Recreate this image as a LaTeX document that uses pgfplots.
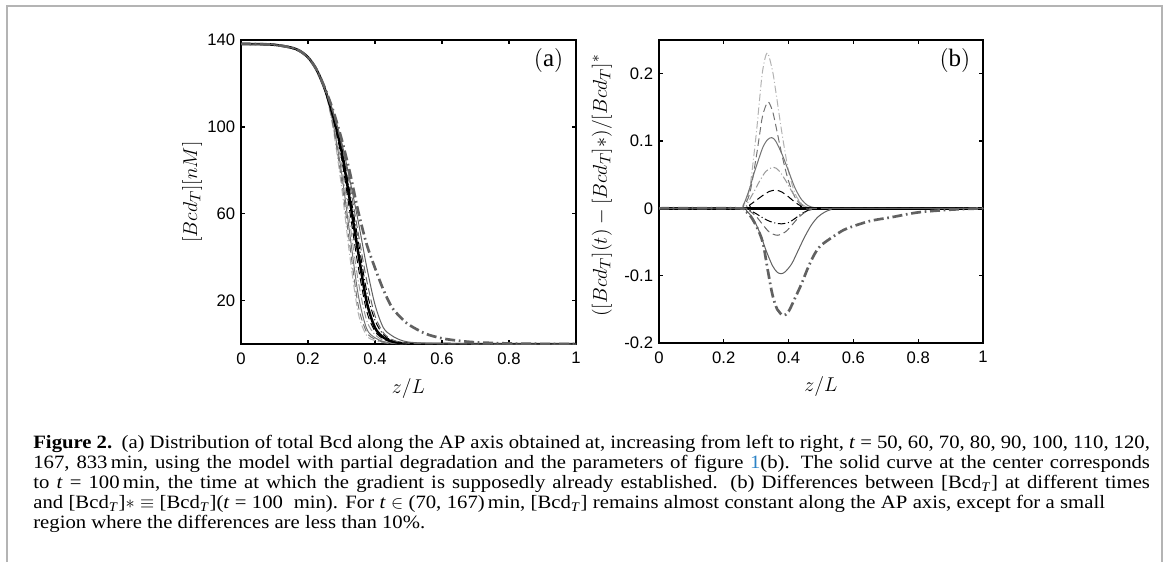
\documentclass[border=0pt]{standalone}
\usepackage{fontspec}
\setmainfont{Liberation Serif}
\newfontfamily\capfont[FakeStretch=1.1]{Liberation Serif}
\newfontfamily\ticksf{Liberation Sans}
\usepackage{pgfplots}
\usepackage{pgfplotstable}
\pgfplotsset{compat=1.18}
\definecolor{linkblue}{HTML}{2B83C6}
\definecolor{framegray}{HTML}{B4B4B4}

% line styles, t = 50 ... 833 min
\tikzset{
  s50/.style={black!30, line width=0.6pt, dash pattern=on 4.5pt off 1.6pt on 0.6pt off 1.6pt},
  s60/.style={black!55, line width=0.6pt, dash pattern=on 4.5pt off 2.4pt},
  s70/.style={black!55, line width=0.6pt},
  s80/.style={black!40, line width=0.6pt, dash pattern=on 4.5pt off 1.6pt on 0.6pt off 1.6pt},
  s90/.style={black, line width=0.6pt, dash pattern=on 4.5pt off 2.4pt},
  s100/.style={black, line width=1.5pt},
  s110/.style={black, line width=0.6pt, dash pattern=on 4.5pt off 1.6pt on 0.6pt off 1.6pt},
  s120/.style={black!60, line width=0.6pt, dash pattern=on 4.5pt off 2.4pt},
  s167/.style={black!62, line width=0.6pt},
  s833/.style={black!62, line width=1.6pt, dash pattern=on 6pt off 2.2pt on 1pt off 2.2pt},
}

\pgfplotsset{
  panel/.style={
    scale only axis, anchor=south west,
    xmin=0, xmax=1, xtick={0,0.2,0.4,0.6,0.8,1},
    tick align=inside, major tick length=2.4pt,
    tick style={black, line width=0.8pt},
    axis line style={line width=1.2pt},
    /pgf/number format/assume math mode=true,
    tick label style={font=\ticksf\fontsize{10}{10}\selectfont},
    xticklabel style={yshift=-1.5pt},
    label style={font=\fontsize{12.5}{14}\selectfont},
    xlabel={$z/L$},
    xlabel style={at={(axis description cs:0.5,-0.145)}, anchor=center},
  },
}

\pgfplotstableread{
z     t50   t60   t70   t80   t90   t100  t110  t120  t167  t833
0     138.2 138.2 138.2 138.2 138.2 138.2 138.2 138.2 138.2 138.2
0.05  138.1 138.1 138.1 138.1 138.1 138.1 138.1 138.1 138.1 138.1
0.10  137.8 137.8 137.8 137.8 137.8 137.8 137.8 137.8 137.8 137.8
0.15  136.5 136.5 136.5 136.5 136.5 136.5 136.5 136.5 136.5 136.5
0.175 135.0 135.0 135.0 135.0 135.0 135.0 135.0 135.0 135.0 135.0
0.20  132.0 132.0 132.0 132.0 132.0 132.0 132.0 132.0 132.0 132.0
0.225 126.5 126.5 126.5 126.5 126.5 126.5 126.5 126.5 126.5 126.5
0.25  117.5 117.5 117.5 117.5 117.5 117.5 117.5 117.5 117.5 118.0
0.275 99.2  100.4 101.5 102.7 103.8 105.0 105.7 106.4 107.0 107.5
0.30  72.4  75.8  79.1  82.4  85.7  89.0  90.8  92.0  93.2  94.5
0.325 40.2  45.3  50.4  55.6  60.8  66.0  69.9  73.0  75.5  79.0
0.35  14.2  17.7  22.6  29.0  35.5  42.0  47.4  51.0  56.4  61.0
0.375 3.9   5.5   7.1   10.9  15.2  19.5  24.5  29.5  35.7  46.0
0.40  1.56  2.2   2.86  4.3   5.9   7.5   10.9  13.0  18.1  35.0
0.425 0.64  0.9   1.14  1.7   2.35  3.0   4.3   5.2   7.5   25.0
0.45  0.26  0.37  0.48  0.7   0.95  1.2   1.7   2.1   3.9   17.0
0.475 0.12  0.16  0.2   0.28  0.39  0.5   0.7   0.85  1.9   12.5
0.50  0.06  0.08  0.1   0.14  0.17  0.2   0.28  0.35  0.9   9.0
0.55  0.01  0.01  0.02  0.03  0.04  0.05  0.07  0.1   0.35  4.8
0.60  0     0     0     0     0     0.01  0.02  0.03  0.12  2.6
0.65  0     0     0     0     0     0     0     0.01  0.04  1.5
0.70  0     0     0     0     0     0     0     0     0     0.8
0.80  0     0     0     0     0     0     0     0     0     0.25
0.90  0     0     0     0     0     0     0     0     0     0.06
1.00  0     0     0     0     0     0     0     0     0     0
}\bcdtotal

\begin{document}
\begin{tikzpicture}
\useasboundingbox (0,0) rectangle (700.8pt,-337.2pt);
\draw[framegray, line width=1.1pt] (4.2pt,-337.2pt) -- (4.2pt,-3.6pt) -- (697.4pt,-3.6pt) -- (697.4pt,-337.2pt);

% (a) total Bcd
\begin{axis}[panel, at={(144.6pt,-206.4pt)}, width=201pt, height=182.4pt,
  ymin=0, ymax=140, ytick={20,60,100,140},
  ylabel={$[Bcd_T][nM]$},
  ylabel style={at={(axis description cs:-0.146,0.5)}, anchor=center},
]
\addplot[s50, smooth]  table[x=z, y=t50]  {\bcdtotal};
\addplot[s60, smooth]  table[x=z, y=t60]  {\bcdtotal};
\addplot[s70, smooth]  table[x=z, y=t70]  {\bcdtotal};
\addplot[s80, smooth]  table[x=z, y=t80]  {\bcdtotal};
\addplot[s90, smooth]  table[x=z, y=t90]  {\bcdtotal};
\addplot[s100, smooth] table[x=z, y=t100] {\bcdtotal};
\addplot[s110, smooth] table[x=z, y=t110] {\bcdtotal};
\addplot[s120, smooth] table[x=z, y=t120] {\bcdtotal};
\addplot[s167, smooth] table[x=z, y=t167] {\bcdtotal};
\addplot[s833, smooth] table[x=z, y=t833] {\bcdtotal};
\node[anchor=north east, inner sep=0pt, font=\fontsize{15}{17}\selectfont]
  at ([xshift=-7.4pt, yshift=-4.8pt]rel axis cs:1,1) {$(\mathrm{a})$};
\end{axis}

% (b) relative differences
\begin{axis}[panel, at={(395.4pt,-205.8pt)}, width=194.4pt, height=181.8pt,
  ymin=-0.2, ymax=0.25, ytick={-0.2,-0.1,0,0.1,0.2},
  ylabel={$([Bcd_T](t)-[Bcd_T]\ast)/[Bcd_T]^{\ast}$},
  ylabel style={at={(axis description cs:-0.176,0.52)}, anchor=center},
]
\addplot[s50, smooth] coordinates {(0,0) (0.24,0) (0.26,0.004) (0.28,0.03) (0.30,0.11)
  (0.31,0.16) (0.32,0.205) (0.334,0.231) (0.35,0.205) (0.36,0.175) (0.38,0.11)
  (0.40,0.055) (0.42,0.022) (0.44,0.007) (0.46,0.001) (0.48,0) (1,0)};
\addplot[s60, smooth] coordinates {(0,0) (0.24,0) (0.26,0.003) (0.28,0.022) (0.30,0.076)
  (0.31,0.108) (0.32,0.138) (0.336,0.158) (0.35,0.145) (0.36,0.124) (0.38,0.078)
  (0.40,0.04) (0.42,0.016) (0.44,0.005) (0.46,0.001) (0.48,0) (1,0)};
\addplot[s70, smooth] coordinates {(0,0) (0.24,0) (0.26,0.005) (0.28,0.03) (0.29,0.047)
  (0.30,0.062) (0.32,0.09) (0.335,0.102) (0.348,0.105) (0.36,0.1) (0.38,0.08)
  (0.40,0.055) (0.42,0.03) (0.44,0.013) (0.46,0.004) (0.48,0.001) (0.50,0) (1,0)};
\addplot[s80, smooth] coordinates {(0,0) (0.25,0) (0.27,0.006) (0.29,0.022) (0.31,0.04)
  (0.33,0.055) (0.353,0.061) (0.37,0.056) (0.39,0.042) (0.41,0.025) (0.43,0.011)
  (0.45,0.003) (0.47,0) (1,0)};
\addplot[s90, smooth] coordinates {(0,0) (0.26,0) (0.28,0.005) (0.30,0.012) (0.32,0.019)
  (0.34,0.025) (0.361,0.027) (0.38,0.024) (0.40,0.017) (0.42,0.009) (0.44,0.003)
  (0.46,0) (1,0)};
\addplot[s100] coordinates {(0,0) (1,0)};
\addplot[s110, smooth] coordinates {(0,0) (0.26,0) (0.28,-0.003) (0.30,-0.008) (0.32,-0.014)
  (0.34,-0.019) (0.36,-0.022) (0.379,-0.023) (0.40,-0.021) (0.42,-0.015) (0.44,-0.008)
  (0.46,-0.003) (0.48,0) (1,0)};
\addplot[s120, smooth] coordinates {(0,0) (0.26,0) (0.28,-0.004) (0.30,-0.012) (0.32,-0.024)
  (0.34,-0.035) (0.365,-0.040) (0.39,-0.035) (0.41,-0.025) (0.43,-0.014) (0.45,-0.006)
  (0.47,-0.002) (0.49,0) (1,0)};
\addplot[s167, smooth] coordinates {(0,0) (0.25,0) (0.27,-0.004) (0.29,-0.015) (0.31,-0.035)
  (0.33,-0.062) (0.35,-0.085) (0.365,-0.095) (0.378,-0.097) (0.39,-0.094) (0.41,-0.082)
  (0.43,-0.062) (0.45,-0.042) (0.47,-0.025) (0.49,-0.013) (0.51,-0.006) (0.53,-0.002)
  (0.56,0) (1,0)};
\addplot[s833, smooth] coordinates {(0,0) (0.24,0) (0.26,-0.002) (0.28,-0.01) (0.30,-0.026)
  (0.32,-0.05) (0.335,-0.09) (0.35,-0.128) (0.365,-0.15) (0.384,-0.159) (0.40,-0.153)
  (0.42,-0.133) (0.44,-0.112) (0.46,-0.088) (0.48,-0.068) (0.50,-0.055) (0.55,-0.038)
  (0.58,-0.030) (0.65,-0.019) (0.72,-0.013) (0.80,-0.006) (0.90,-0.002) (1,0)};
\node[anchor=north east, inner sep=0pt, font=\fontsize{15}{17}\selectfont]
  at ([xshift=-7.4pt, yshift=-4.8pt]rel axis cs:1,1) {$(\mathrm{b})$};
\end{axis}

\node[anchor=north west, inner sep=0pt, align=left,
  font=\capfont\fontsize{11.3}{12}\selectfont] at (19.8pt,-261pt) {%
\makebox[670pt][s]{\textbf{Figure 2.}\enspace(a) Distribution of total Bcd along the AP axis obtained at, increasing from left to right, \textit{t}~=~50, 60, 70, 80, 90, 100, 110, 120,}\\
\makebox[670pt][s]{167, 833\,min, using the model with partial degradation and the parameters of figure \textcolor{linkblue}{1}(b). The solid curve at the center corresponds}\\
\makebox[670pt][s]{to \textit{t}~=~100\,min, the time at which the gradient is supposedly already established. (b) Differences between [Bcd\textsubscript{\textit{T}}] at different times}\\
\makebox[643pt][s]{and [Bcd\textsubscript{\textit{T}}]${\ast}\equiv{}$[Bcd\textsubscript{\textit{T}}](\textit{t}~=~100~~min). For \textit{t}~$\in$~(70, 167)\,min, [Bcd\textsubscript{\textit{T}}] remains almost constant along the AP axis, except for a small}\\
region where the differences are less than 10\%.};
\end{tikzpicture}
\end{document}
